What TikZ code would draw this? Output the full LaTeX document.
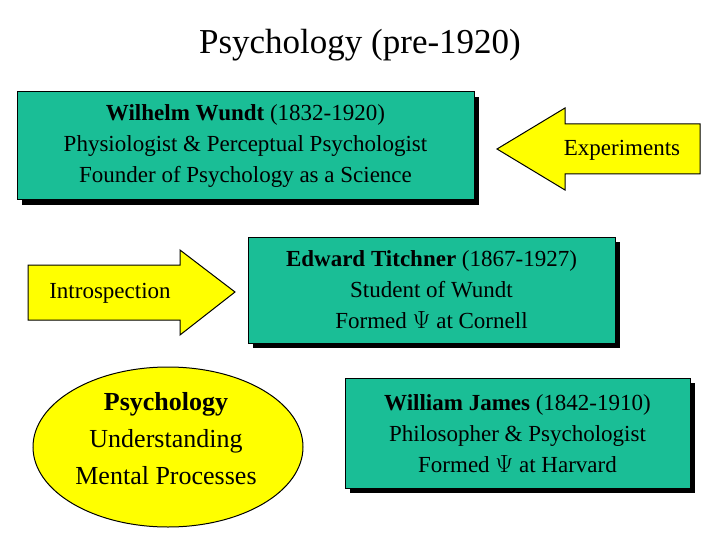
\documentclass[tikz,border=0pt]{standalone}
\usepackage{fontspec}
\setmainfont{Liberation Serif}
\definecolor{teal1}{RGB}{26,190,150}
\definecolor{yel}{RGB}{255,255,0}
\begin{document}
\begin{tikzpicture}[x=1pt,y=-1pt,
  box/.style={draw=black,line width=1pt,fill=teal1,font=\fontsize{23}{31}\selectfont,align=center,inner sep=0pt},
  shad/.style={fill=black},
  arr/.style={draw=black,line width=1pt,fill=yel},
  lbl/.style={font=\fontsize{23}{28}\selectfont}]
\useasboundingbox (0,0) rectangle (720,540);
\node (title) at (360,45) {\fontsize{35}{40}\selectfont Psychology (pre-1920)};
% box 1
\fill[shad] (22,97) rectangle (479,205);
\draw[box] (17,92) rectangle (474,200);
\node[box,draw=none,fill=none] (b1) at (245.5,146) {\textbf{Wilhelm Wundt} (1832-1920)\\Physiologist \& Perceptual Psychologist\\Founder of Psychology as a Science};
% experiments arrow
\draw[arr] (497,149) -- (565,108) -- (565,124) -- (700,124) -- (700,174) -- (565,174) -- (565,190) -- cycle;
\node[lbl] (exp) at (622,150) {Experiments};
% box 2
\fill[shad] (253,242) rectangle (620,348);
\draw[box] (248,237) rectangle (615,343);
\node[box,draw=none,fill=none] (b2) at (431.5,290) {\textbf{Edward Titchner} (1867-1927)\\Student of Wundt\\Formed $\Psi$ at Cornell};
% introspection arrow
\draw[arr] (28,265) -- (180,265) -- (180,250) -- (235,292) -- (180,335) -- (180,320) -- (28,320) -- cycle;
\node[lbl] (intro) at (110,293) {Introspection};
% ellipse
\draw[arr] (168,447) ellipse [x radius=135, y radius=80];
\node[font=\fontsize{26}{37}\selectfont,align=center] (ell) at (166,439) {\textbf{Psychology}\\Understanding\\Mental Processes};
% box 3
\fill[shad] (350,383) rectangle (695,493);
\draw[box] (345,378) rectangle (690,488);
\node[box,draw=none,fill=none] (b3) at (517.5,434) {\textbf{William James} (1842-1910)\\Philosopher \& Psychologist\\Formed $\Psi$ at Harvard};
\end{tikzpicture}
\end{document}
